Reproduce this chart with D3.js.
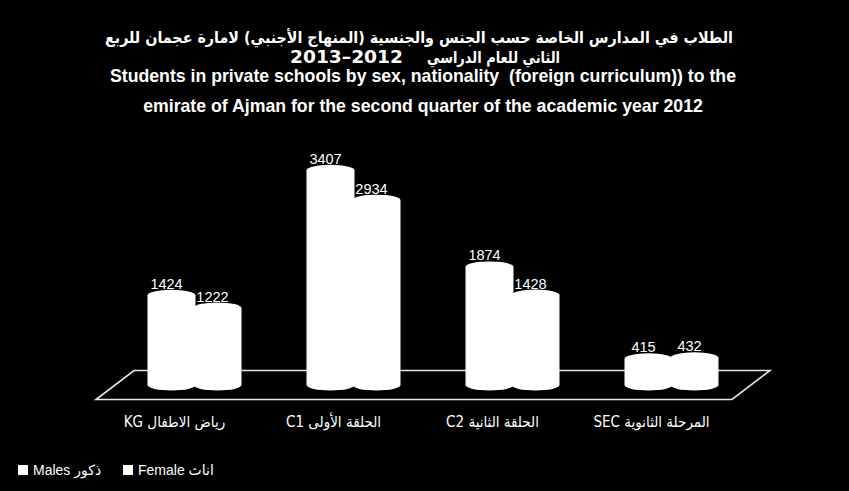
<!DOCTYPE html>
<html>
<head>
<meta charset="utf-8">
<script src="https://cdn.jsdelivr.net/npm/d3@7"></script>
<style>
  body { margin: 0; background: #000; }
  svg { display: block; }
</style>
</head>
<body>
<div id="chart"></div>
<script>
// chart data
var categories = ["رياض الاطفال KG", "الحلقة الأولى C1", "الحلقة الثانية C2", "المرحلة الثانوية SEC"];
var series = ["Males ذكور", "Female اناث"];
var males = [1424, 3407, 1874, 415];
var females = [1222, 2934, 1428, 432];

var titleAr1 = "الطلاب في المدارس الخاصة حسب الجنس والجنسية (المنهاج الأجنبي) لامارة عجمان للربع";
var titleAr2 = "الثاني للعام الدراسي";
var titleYears = "2012–2013";
var titleEn = ["Students in private schools by sex, nationality  (foreign curriculum)) to the",
               "emirate of Ajman for the second quarter of the academic year 2012"];

var svgWidth = 849;
var svgHeight = 491;

var svg = d3.select("#chart")
  .append("svg")
  .attr("width", svgWidth)
  .attr("height", svgHeight)
  .style("background", "#000");

// arabic title (two lines, the years in a bigger font)
var arFont = "'DejaVu Sans Condensed', 'DejaVu Sans', sans-serif";

svg.append("text")
  .attr("x", 419)
  .attr("y", 42.5)
  .attr("text-anchor", "middle")
  .attr("direction", "rtl")
  .attr("textLength", 628)
  .attr("lengthAdjust", "spacingAndGlyphs")
  .attr("fill", "#fff")
  .attr("font-family", arFont)
  .attr("font-weight", "bold")
  .attr("font-size", "16px")
  .text(titleAr1);

svg.append("text")
  .attr("x", 493.5)
  .attr("y", 63)
  .attr("text-anchor", "middle")
  .attr("textLength", 133)
  .attr("lengthAdjust", "spacingAndGlyphs")
  .attr("fill", "#fff")
  .attr("font-family", arFont)
  .attr("font-weight", "bold")
  .attr("font-size", "16px")
  .text(titleAr2);

svg.append("text")
  .attr("x", 346.5)
  .attr("y", 63)
  .attr("text-anchor", "middle")
  .attr("direction", "rtl")
  .attr("textLength", 113)
  .attr("lengthAdjust", "spacingAndGlyphs")
  .attr("fill", "#fff")
  .attr("font-family", "'DejaVu Sans', sans-serif")
  .attr("font-weight", "bold")
  .attr("font-size", "17.5px")
  .text(titleYears);

svg.selectAll(".titleEn")
  .data(titleEn)
  .enter()
  .append("text")
  .attr("class", "titleEn")
  .attr("x", 423)
  .attr("y", (d, i) => 82 + i * 30)
  .attr("text-anchor", "middle")
  .attr("fill", "#fff")
  .attr("font-family", "'Liberation Sans Narrow', 'Liberation Sans', sans-serif")
  .attr("font-weight", "bold")
  .attr("font-size", "17.7px")
  .style("white-space", "pre")
  .text(d => d);

// scales
var xScale = d3.scaleBand()
  .domain(categories)
  .range([115, 751]);

var xInner = d3.scaleBand()
  .domain(series)
  .range([-46, 46]);

var yScale = d3.scaleLinear()
  .domain([0, 3500])
  .range([385, 164.5]);

var rx = xInner.bandwidth() / 2 + 1;
var ry = 5.5;
var depthX = 19;
var depthY = 14.5;

// floor
var x0 = xScale.range()[0], x1 = xScale.range()[1], yb = yScale(0);
svg.append("path")
  .attr("d", `M${x0 + depthX},${yb - depthY} L${x1 + depthX},${yb - depthY} L${x1 - depthX},${yb + depthY} L${x0 - depthX},${yb + depthY} Z`)
  .attr("fill", "none")
  .attr("stroke", "#e6e6e6")
  .attr("stroke-width", 1.6);

// cylinders
function cylinder(cx, v) {
  var top = yScale(v), bot = yScale(0);
  return `M${cx - rx},${top} L${cx - rx},${bot} A${rx},${ry} 0 0 0 ${cx + rx},${bot} ` +
         `L${cx + rx},${top} A${rx},${ry} 0 0 0 ${cx - rx},${top} Z`;
}

var rows = categories.map((c, i) => ({ cat: c, values: [males[i], females[i]] }));

var groups = svg.selectAll(".group")
  .data(rows)
  .enter()
  .append("g")
  .attr("class", "group")
  .attr("transform", d => `translate(${xScale(d.cat) + xScale.bandwidth() / 2}, 0)`);

groups.selectAll("path")
  .data(d => d.values.map((v, j) => ({ s: series[j], v: v })))
  .enter()
  .append("path")
  .attr("d", d => cylinder(xInner(d.s) + xInner.bandwidth() / 2, d.v))
  .attr("fill", "#fff");

groups.selectAll(".val")
  .data(d => d.values.map((v, j) => ({ s: series[j], v: v })))
  .enter()
  .append("text")
  .attr("class", "val")
  .attr("x", d => xInner(d.s) + xInner.bandwidth() / 2 - 5)
  .attr("y", d => yScale(d.v) - ry - 1)
  .attr("text-anchor", "middle")
  .attr("fill", "#fff")
  .attr("font-family", "'Liberation Sans', sans-serif")
  .attr("font-size", "14.5px")
  .text(d => d.v);

// category labels
svg.selectAll(".cat")
  .data(categories)
  .enter()
  .append("text")
  .attr("class", "cat")
  .attr("x", d => xScale(d) + xScale.bandwidth() / 2 - 20)
  .attr("y", 427)
  .attr("text-anchor", "middle")
  .attr("direction", "rtl")
  .attr("fill", "#fff")
  .attr("font-family", "'Liberation Sans Narrow', 'DejaVu Sans Condensed', sans-serif")
  .attr("font-size", "15px")
  .text(d => d);

// legend
var legend = svg.selectAll(".legend")
  .data(series)
  .enter()
  .append("g")
  .attr("class", "legend")
  .attr("transform", (d, i) => `translate(${18 + i * 105}, 465)`);

legend.append("rect")
  .attr("width", 10)
  .attr("height", 10)
  .attr("fill", "#fff");

legend.append("text")
  .attr("x", 15)
  .attr("y", 9.5)
  .attr("fill", "#fff")
  .attr("font-family", "'Liberation Sans', 'DejaVu Sans', sans-serif")
  .attr("font-size", "14px")
  .text(d => d);
</script>
</body>
</html>
